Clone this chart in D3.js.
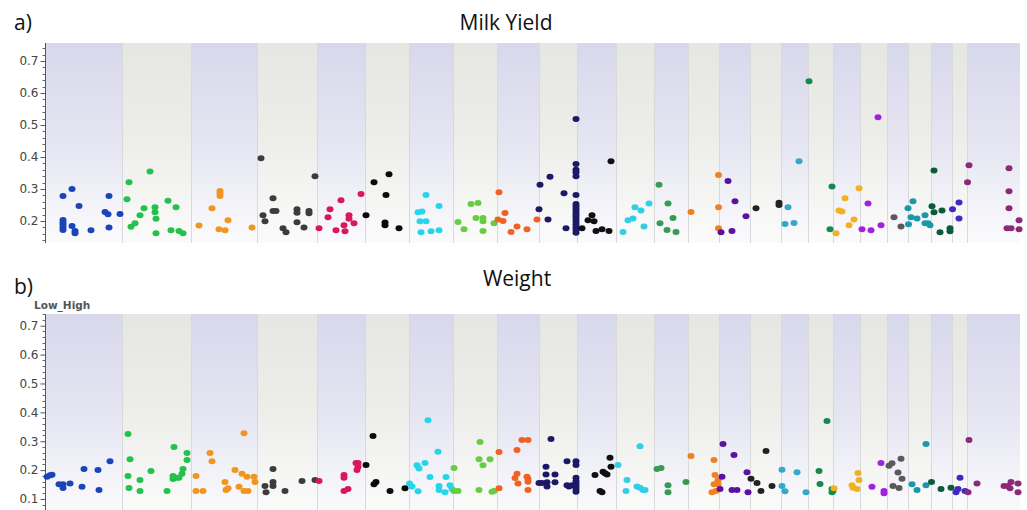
<!DOCTYPE html>
<html>
<head>
<meta charset="utf-8">
<script src="https://cdn.jsdelivr.net/npm/d3@7/dist/d3.min.js"></script>
<style>
  html, body { margin: 0; padding: 0; background: #ffffff; }
  svg { display: block; }
</style>
</head>
<body>
<svg id="chart" width="1027" height="510"></svg>
<script>
// ---------------- DATA ----------------
const chromosomes = d3.range(1, 26);
const chrLengths = [77,69,66,60,48,44,44,44,42,38,39,38,34,31,31,31,27,25,27,27,21,23,21,15,53];
const chrColors = ["#1a44b8","#22c24c","#f0961e","#3c3c3c","#d8185a","#0a0a0a","#26d6e8","#66cc44",
  "#f06224","#1c1a66","#101010","#30cfe6","#3a9a52","#f08020","#5a12a0","#222222","#34a8c8",
  "#148a50","#f0b222","#a022e0","#5a5a5a","#1898aa","#0b5a3a","#4028c0","#8a2a78"];
const milkTicks = [0.2, 0.3, 0.4, 0.5, 0.6, 0.7];
const weightTicks = [0.1, 0.2, 0.3, 0.4, 0.5, 0.6, 0.7];

// [chromosome, position within chromosome, Low_High value]
const milkYield = [
  [1,18,.278],[1,27,.300],[1,34,.247],[1,18,.203],[1,18,.195],[1,18,.188],[1,18,.180],[1,18,.172],
  [1,27,.184],[1,30,.169],[1,30,.162],[1,46,.171],[1,60,.228],[1,63,.221],[1,64,.278],[1,64,.180],[1,75,.222],
  [2,7,.321],[2,5,.268],[2,28,.355],[2,9,.182],[2,13,.193],[2,18,.218],[2,22,.240],[2,33,.243],[2,33,.227],
  [2,34,.207],[2,34,.162],[2,46,.263],[2,54,.243],[2,49,.171],[2,57,.169],[2,61,.162],
  [3,8,.186],[3,21,.240],[3,29,.294],[3,29,.287],[3,29,.278],[3,28,.174],[3,34,.171],[3,37,.202],[3,61,.180],
  [4,4,.396],[4,6,.218],[4,8,.199],[4,16,.271],[4,16,.231],[4,19,.231],[4,26,.177],[4,29,.165],[4,40,.237],
  [4,40,.226],[4,40,.196],[4,47,.180],[4,52,.231],[4,52,.224],[4,58,.340],
  [5,2,.177],[5,11,.212],[5,13,.237],[5,19,.171],[5,24,.265],[5,27,.187],[5,28,.168],[5,32,.218],[5,32,.207],
  [5,37,.193],[5,44,.284],
  [6,1,.218],[6,9,.321],[6,24,.346],[6,21,.281],[6,20,.195],[6,20,.187],[6,34,.177],
  [7,17,.281],[7,9,.227],[7,13,.230],[7,30,.247],[7,11,.199],[7,17,.199],[7,12,.165],[7,22,.168],[7,30,.171],
  [8,5,.197],[8,11,.174],[8,18,.253],[8,25,.256],[8,23,.209],[8,30,.209],[8,30,.199],[8,30,.169],[8,41,.193],
  [9,2,.290],[9,1,.205],[9,6,.200],[9,8,.225],[9,14,.166],[9,20,.183],[9,30,.174],[9,40,.205],
  [10,1,.313],[10,11,.338],[10,0,.237],[10,9,.205],[10,25,.287],[10,27,.177],
  [10,37,.519],[10,37,.378],[10,37,.360],[10,37,.352],[10,37,.340],[10,37,.281],[10,37,.253],[10,37,.245],
  [10,37,.237],[10,37,.228],[10,37,.220],[10,37,.213],[10,37,.205],[10,37,.197],[10,37,.188],[10,37,.180],
  [10,37,.172],[10,37,.163],
  [11,5,.177],[11,11,.202],[11,17,.199],[11,15,.218],[11,19,.169],[11,25,.174],[11,32,.169],[11,34,.387],
  [12,7,.166],[12,12,.202],[12,17,.208],[12,19,.243],[12,25,.233],[12,33,.255],[12,28,.183],
  [13,5,.313],[13,14,.255],[13,6,.193],[13,19,.209],[13,13,.172],[13,22,.166],
  [14,3,.228],[14,30.5,.344],[14,30.5,.243],[14,30.5,.177],
  [15,9,.325],[15,2,.165],[15,13,.169],[15,16,.262],[15,27,.215],
  [16,6,.240],[16,29,.257],[16,29,.250],
  [17,7,.243],[17,4,.191],[17,13,.194],[17,18,.387],
  [18,1,.637],[18,24,.308],[18,22,.174],
  [19,3,.162],[19,6,.233],[19,9,.230],[19,12,.271],[19,16,.187],[19,21,.205],[19,26,.302],
  [20,2,.174],[20,8,.255],[20,11,.171],[20,21,.187],[20,18,.524],
  [21,7,.212],[21,14,.183],
  [22,0.5,.190],[22,0,.240],[22,5,.262],[22,3,.212],[22,9,.208],[22,17,.218],[22,17,.193],[22,20,.193],[22,22,.187],
  [23,3,.358],[23,1,.246],[23,3,.227],[23,11,.233],[23,9,.165],[23,19,.177],[23,19,.168],
  [24,0.5,.237],[24,7,.258],[24,7,.208],
  [25,2,.374],[25,0.5,.321],[25,42,.365],[25,42,.293],[25,42,.240],[25,40,.177],[25,44,.177],[25,52,.202],[25,52,.174]
];

const weight = [
  [1,2,.177],[1,5,.182],[1,7,.184],[1,14,.151],[1,18,.151],[1,18,.138],[1,25,.154],[1,37,.142],[1,39,.204],
  [1,53,.200],[1,54,.131],[1,65,.231],
  [2,6,.325],[2,6,.180],[2,8,.238],[2,7,.138],[2,18,.166],[2,18,.128],[2,29,.197],[2,45,.128],[2,52,.280],
  [2,51,.180],[2,51,.169],[2,55,.174],[2,57,.174],[2,60,.187],[2,61,.204],[2,65,.259],[2,65,.235],
  [3,19,.259],[3,21,.231],[3,5,.180],[3,5,.128],[3,12,.128],[3,34,.159],[3,35,.131],[3,37,.137],[3,44,.200],
  [3,48,.142],[3,51,.187],[3,56,.177],[3,53,.128],[3,57,.128],[3,53,.328],[3,63,.177],[3,64,.159],
  [4,8,.145],[4,9,.123],[4,16,.204],[4,16,.159],[4,16,.145],[4,28,.128],[4,45,.162],[4,58,.166],
  [5,2,.162],[5,27,.183],[5,27,.174],[5,27,.128],[5,31,.135],[5,39,.225],[5,41,.225],[5,41,.212],[5,40,.200],
  [6,1,.218],[6,8,.318],[6,11,.159],[6,9,.151],[6,25,.128],[6,40,.137],
  [7,19,.373],[7,0.5,.154],[7,3,.143],[7,9,.127],[7,8,.217],[7,10,.206],[7,16,.225],[7,21,.176],[7,29,.264],
  [7,30,.145],[7,30,.131],[7,36,.123],[7,37,.176],[7,41,.148],[7,43,.135],
  [8,1,.207],[8,1,.128],[8,5,.128],[8,27,.297],[8,26,.238],[8,37,.238],[8,30,.217],[8,26,.131],[8,39,.125],[8,41,.128],
  [9,2,.263],[9,2,.137],[9,20,.270],[9,25,.304],[9,31,.304],[9,18,.173],[9,20,.187],[9,21,.154],[9,30,.177],
  [9,31,.169],[9,31,.160],[9,31,.131],
  [10,0,.155],[10,3,.155],[10,7,.212],[10,7,.185],[10,8,.158],[10,8,.143],[10,12,.308],[10,16,.185],[10,16,.158],
  [10,28,.231],[10,37,.231],[10,37,.218],[10,28,.148],[10,30,.143],[10,33,.148],
  [10,37,.174],[10,37,.162],[10,37,.153],[10,37,.144],[10,37,.135],[10,37,.125],
  [11,18,.183],[11,26,.194],[11,28,.189],[11,30,.185],[11,33,.243],[11,34,.212],[11,23,.128],[11,25,.123],
  [12,2,.218],[12,11,.166],[12,10,.128],[12,24,.283],[12,21,.143],[12,24,.139],[12,27,.131],[12,29,.131],
  [13,3,.204],[13,7,.207],[13,14,.148],[13,14,.123],[13,32,.159],
  [14,3,.249],[14,26,.235],[14,27,.183],[14,26,.151],[14,30,.165],[14,30,.151],[14,24,.123],[14,28,.128],
  [15,4,.290],[15,3,.177],[15,1,.135],[15,13,.131],[15,18,.131],[15,15,.252],[15,28,.193],[15,29,.123],
  [16,1,.170],[16,7,.155],[16,11,.128],[16,16,.266],[16,22,.145],
  [17,1,.201],[17,1,.145],[17,4,.127],[17,16,.193],[17,25,.123],
  [18,19,.370],[18,11,.197],[18,12,.152],[18,24,.135],[18,24,.123],[18,25,.128],
  [19,1,.137],[19,19,.148],[19,20,.139],[19,24,.135],[19,25,.190],[19,26,.166],
  [20,12,.142],[20,21,.225],[20,24,.128],[20,24,.120],
  [21,2,.215],[21,5,.224],[21,14,.239],[21,6,.145],[21,12,.138],[21,11,.192],[21,15,.170],
  [22,4,.151],[22,9,.131],[22,18,.290],[22,18,.148],
  [23,0.5,.159],[23,10,.135],[23,20,.139],
  [24,8,.174],[24,4,.123],[24,6,.135],[24,13,.128],
  [25,1,.123],[25,2,.304],[25,10,.154],[25,37,.145],[25,41,.145],[25,44,.159],[25,43,.137],[25,51,.154],[25,51,.123]
];

// ---------------- DRAWING ----------------
const svg = d3.select("#chart");
const chrStarts = d3.cumsum([0].concat(chrLengths.slice(0, -1)));
const totalLen = d3.sum(chrLengths);
const x = d3.scaleLinear().domain([0, totalLen]).range([45, 1020]);

const defs = svg.append("defs");
function grad(id, top, mid, bottom) {
  const g = defs.append("linearGradient").attr("id", id).attr("x1", 0).attr("y1", 0).attr("x2", 0).attr("y2", 1);
  g.append("stop").attr("offset", "0%").attr("stop-color", top);
  g.append("stop").attr("offset", "45%").attr("stop-color", mid);
  g.append("stop").attr("offset", "100%").attr("stop-color", bottom);
}
grad("gLav", "#d8d8ec", "#e3e3f1", "#fbfbfd");
grad("gGray", "#e6e6e2", "#ecece9", "#fbfbfb");

const panels = [
  { label: "a)", title: "Milk Yield", titleX: 506, data: milkYield, ticks: milkTicks,
    top: 43, bottom: 243, y: d3.scaleLinear().domain([0.2, 0.7]).range([221, 61]),
    labelY: 30, titleY: 30, showAxisTitle: false },
  { label: "b)", title: "Weight", titleX: 517, data: weight, ticks: weightTicks,
    top: 314, bottom: 514, y: d3.scaleLinear().domain([0.1, 0.7]).range([499, 325.7]),
    labelY: 294, titleY: 286, showAxisTitle: true }
];

panels.forEach(p => {
  const g = svg.append("g");
  const y = p.y;
  g.selectAll("rect.band").data(chromosomes).join("rect")
    .attr("class", "band")
    .attr("x", (d, i) => x(chrStarts[i]))
    .attr("width", (d, i) => x(chrStarts[i] + chrLengths[i]) - x(chrStarts[i]))
    .attr("y", p.top)
    .attr("height", p.bottom - p.top)
    .attr("fill", (d, i) => i % 2 === 0 ? "url(#gLav)" : "url(#gGray)");
  g.selectAll("line.sep").data(chromosomes.slice(1)).join("line")
    .attr("class", "sep")
    .attr("x1", (d, i) => Math.round(x(chrStarts[i + 1])) + 0.5)
    .attr("x2", (d, i) => Math.round(x(chrStarts[i + 1])) + 0.5)
    .attr("y1", p.top).attr("y2", p.bottom)
    .attr("stroke", "#d9d9db").attr("stroke-width", 1);

  const yTop = y.invert(p.top), yBot = y.invert(p.bottom);
  const minor = d3.range(Math.ceil(yBot / 0.02) * 0.02, yTop, 0.02)
    .filter(v => p.ticks.every(t => Math.abs(t - v) > 1e-6));
  const axisG = g.append("g").attr("transform", "translate(45.5,0)");
  axisG.append("line").attr("y1", p.top).attr("y2", Math.min(p.bottom, 510))
    .attr("stroke", "#555").attr("stroke-width", 1);
  axisG.selectAll("line.minor").data(minor).join("line")
    .attr("class", "minor")
    .attr("x1", -3).attr("x2", 0)
    .attr("y1", d => Math.round(y(d)) + 0.5).attr("y2", d => Math.round(y(d)) + 0.5)
    .attr("stroke", "#666");
  const major = d3.axisLeft(y).tickValues(p.ticks).tickFormat(d3.format(".1f")).tickSize(5).tickPadding(2);
  const mg = axisG.append("g").call(major);
  mg.select(".domain").remove();
  mg.selectAll(".tick line").attr("stroke", "#555");
  mg.selectAll(".tick text").attr("fill", "#444")
    .style("font-family", "'DejaVu Sans', sans-serif").style("font-size", "12px");

  g.selectAll("ellipse.dot").data(p.data).join("ellipse")
    .attr("class", "dot")
    .attr("cx", d => x(chrStarts[d[0] - 1] + d[1]))
    .attr("cy", d => y(d[2]))
    .attr("rx", 3.5).attr("ry", 3)
    .attr("fill", d => chrColors[d[0] - 1]);

  svg.append("text").attr("x", 14).attr("y", p.labelY)
    .style("font-family", "'Open Sans', sans-serif").style("font-size", "21px").attr("fill", "#111")
    .text(p.label);
  svg.append("text").attr("x", p.titleX).attr("y", p.titleY).attr("text-anchor", "middle")
    .style("font-family", "'Open Sans', sans-serif").style("font-size", "21px").attr("fill", "#111")
    .text(p.title);
  if (p.showAxisTitle) {
    svg.append("text").attr("x", 34).attr("y", 309)
      .style("font-family", "'DejaVu Sans', sans-serif").style("font-size", "10.5px")
      .style("font-weight", "bold").attr("fill", "#555")
      .text("Low_High");
  }
});
</script>
</body>
</html>
